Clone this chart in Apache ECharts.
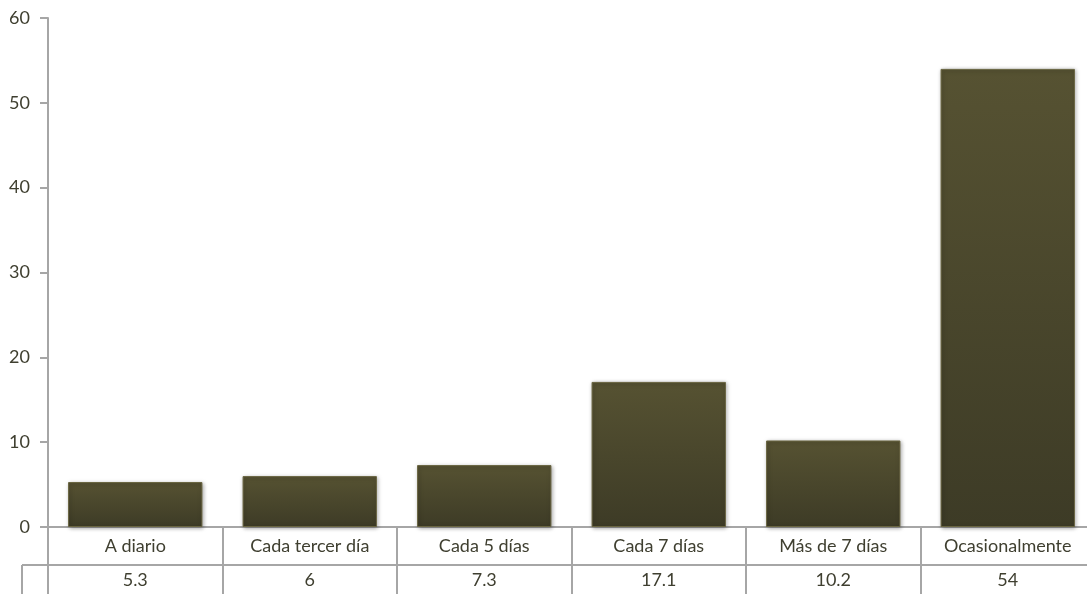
<!DOCTYPE html>
<html><head><meta charset="utf-8">
<script src="https://cdn.jsdelivr.net/npm/echarts@6/dist/echarts.min.js"></script>
<style>html,body{margin:0;padding:0;background:#fff}#c{width:1087px;height:594px}</style>
</head><body><div id="c"></div>
<script>
const categories = ['A diario', 'Cada tercer día', 'Cada 5 días', 'Cada 7 días', 'Más de 7 días', 'Ocasionalmente'];
const values = [5.3, 6, 7.3, 17.1, 10.2, 54];
const valueLabels = ['5.3', '6', '7.3', '17.1', '10.2', '54'];
const yTicks = {min: 0, max: 60, interval: 10};

const FONT = 'Lato';
const TXT = '#3f3f30';
const LINE = '#a6a6a6';
const chart = echarts.init(document.getElementById('c'));
chart.setOption({
  animation: false,
  grid: {left: 48, top: 18, width: 1047, height: 509, containLabel: false, outerBoundsMode: 'none'},
  xAxis: [{
    type: 'category', data: categories, position: 'bottom',
    axisLine: {lineStyle: {color: LINE, width: 2}},
    axisTick: {show: true, length: 38, lineStyle: {color: LINE, width: 2}},
    axisLabel: {color: TXT, fontFamily: FONT, fontSize: 18, margin: 10, hideOverlap: false}
  }, {
    type: 'category', data: valueLabels, position: 'bottom', offset: 38,
    axisLine: {lineStyle: {color: LINE, width: 2}},
    axisTick: {show: true, length: 40, lineStyle: {color: LINE, width: 2}},
    axisLabel: {color: TXT, fontFamily: FONT, fontSize: 18, margin: 6}
  }],
  yAxis: {
    type: 'value', min: yTicks.min, max: yTicks.max, interval: yTicks.interval,
    axisLine: {show: true, lineStyle: {color: LINE, width: 2}},
    axisTick: {show: true, length: 8, lineStyle: {color: LINE, width: 2}},
    splitLine: {show: false},
    axisLabel: {color: TXT, fontFamily: FONT, fontSize: 18, margin: 18}
  },
  series: [{
    type: 'bar', data: values, barWidth: '77%', xAxisIndex: 0,
    itemStyle: {
      color: new echarts.graphic.LinearGradient(0, 0, 0, 1, [
        {offset: 0, color: '#565232'}, {offset: 1, color: '#3d3b26'}]),
      borderColor: '#6a6642', borderWidth: 1,
      shadowColor: 'rgba(0,0,0,0.35)', shadowBlur: 4, shadowOffsetX: 1, shadowOffsetY: 1
    }
  }],
  graphic: [
    {type: 'line', shape: {x1: 22, y1: 565, x2: 48, y2: 565}, style: {stroke: LINE, lineWidth: 2}},
    {type: 'line', shape: {x1: 22, y1: 565, x2: 22, y2: 600}, style: {stroke: LINE, lineWidth: 2}}
  ]
});
</script></body></html>
